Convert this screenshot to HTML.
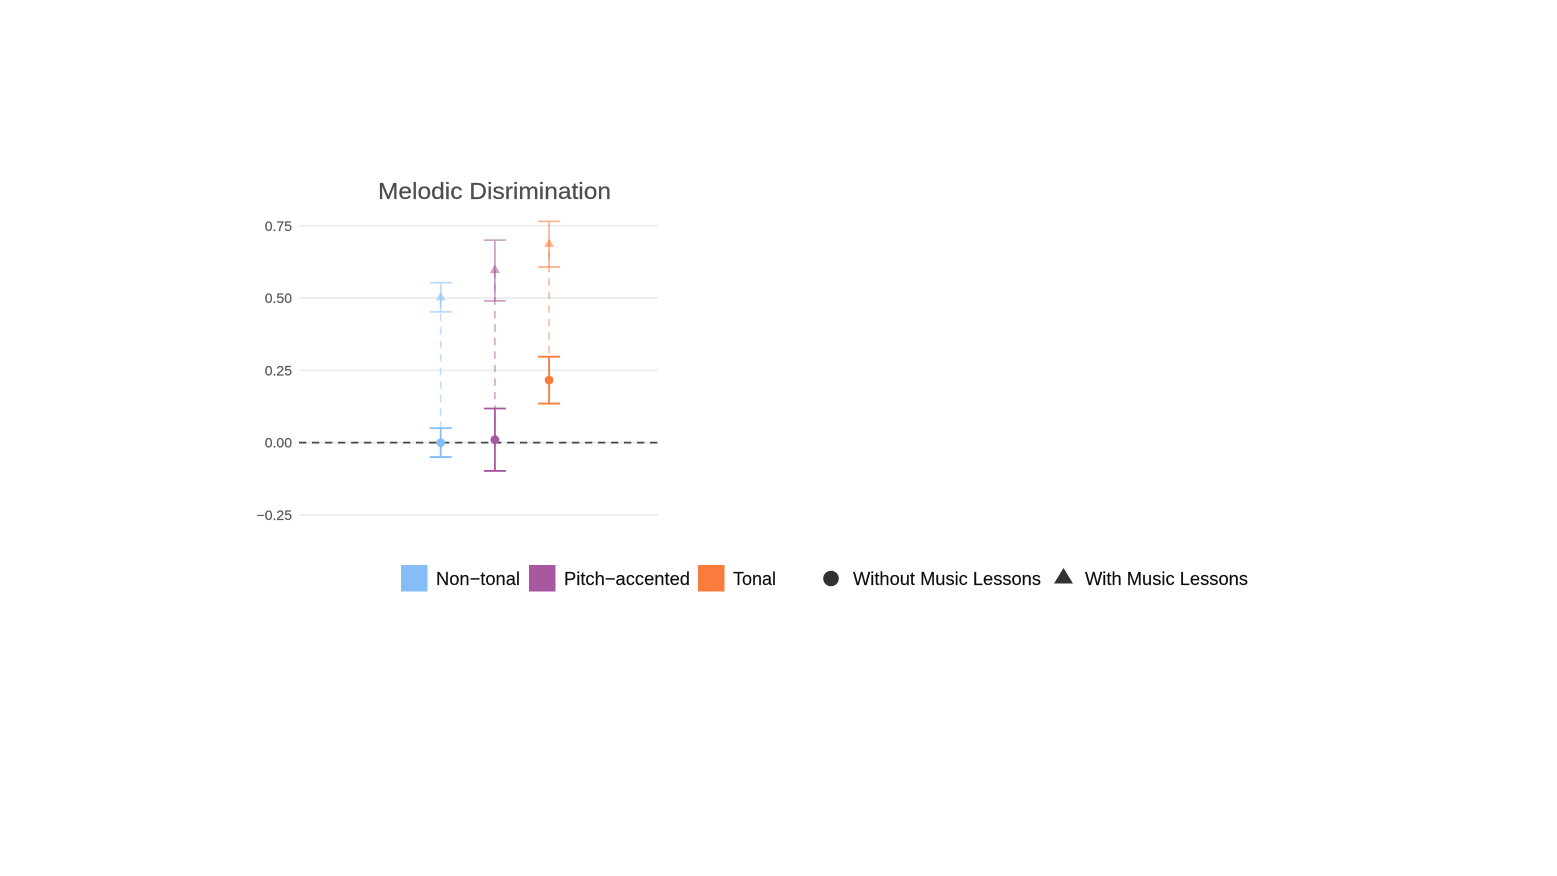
<!DOCTYPE html>
<html>
<head>
<meta charset="utf-8">
<style>
html,body{margin:0;padding:0;background:#fff;width:1557px;height:876px;overflow:hidden}
svg{display:block;font-family:"Liberation Sans",Arial,sans-serif}
</style>
</head>
<body>
<svg id="chart" width="1557" height="876" viewBox="0 0 1557 876" xmlns="http://www.w3.org/2000/svg">
<rect width="1557" height="876" fill="#fff"/>
<g id="plot" filter="url(#soft)"></g>
<defs><filter id="soft" x="-5%" y="-5%" width="110%" height="110%"><feGaussianBlur stdDeviation="0.35"/></filter></defs>
<text x="494.5" y="199" text-anchor="middle" font-size="23.5" fill="#4d4d4d" stroke="#4d4d4d" stroke-width="0.2" textLength="233" lengthAdjust="spacingAndGlyphs">Melodic Disrimination</text>
<g id="legend" filter="url(#soft)"></g>
</svg>
<script>
var groups = ['Non-tonal', 'Pitch-accented', 'Tonal'];
var colors = ['#85bdf7', '#a8589f', '#f97b3d'];
var withoutMean = [0.0, 0.01, 0.216];
var withoutLow = [-0.05, -0.098, 0.135];
var withoutHigh = [0.05, 0.118, 0.297];
var withMean = [0.505, 0.60, 0.69];
var withLow = [0.452, 0.49, 0.607];
var withHigh = [0.553, 0.70, 0.765];
var yTicks = [0.75, 0.5, 0.25, 0, -0.25];
var yTickLabels = ['0.75', '0.50', '0.25', '0.00', '\u22120.25'];
var legendGroupLabels = ['Non\u2212tonal', 'Pitch\u2212accented', 'Tonal'];
var legendShapeLabels = ['Without Music Lessons', 'With Music Lessons'];

var NS = 'http://www.w3.org/2000/svg';
var plot = document.getElementById('plot');
var legend = document.getElementById('legend');
function yScale(v){ return 442.6 - v * 289.2; }
function xScale(i){ return 440.7 + i * 54.2; }
function mk(tag, attrs, parent){
  var e = document.createElementNS(NS, tag);
  for (var k in attrs) e.setAttribute(k, attrs[k]);
  parent.appendChild(e);
  return e;
}
yTicks.forEach(function(t, i){
  var grid = mk('line', {x1:299, x2:658, y1:yScale(t), y2:yScale(t), stroke:'#ebebeb', 'stroke-width':1.7}, plot);
  
  
  var lab = mk('text', {x:292, y:yScale(t) + 5.1, 'text-anchor':'end', 'font-size':14, fill:'#5a5a5a', stroke:'#5a5a5a', 'stroke-width':0.2}, plot);
  lab.textContent = yTickLabels[i];
  
  
});
var zero = mk('line', {x1:299, x2:658, y1:yScale(0), y2:yScale(0), stroke:'#444', 'stroke-width':1.7, 'stroke-dasharray':'7.3 5.7'}, plot);



function errorBar(i, lo, hi, opacity, name){
  var x = xScale(i), g = mk('g', {stroke:colors[i], 'stroke-width':1.8, opacity:opacity, fill:'none'}, plot);
  
  
  mk('line', {x1:x, x2:x, y1:yScale(lo), y2:yScale(hi)}, g);
  mk('line', {x1:x-11, x2:x+11, y1:yScale(lo), y2:yScale(lo)}, g);
  mk('line', {x1:x-11, x2:x+11, y1:yScale(hi), y2:yScale(hi)}, g);
}
groups.forEach(function(g, i){
  var x = xScale(i);
  var slug = g.toLowerCase();
  var dash = mk('line', {x1:x, x2:x, y1:yScale(withoutMean[i]), y2:yScale(withMean[i]), stroke:colors[i], 'stroke-width':1.7, opacity:0.5, 'stroke-dasharray':'7.3 6.2'}, plot);
  
  
  errorBar(i, withLow[i], withHigh[i], 0.55, 'error-bar-with-lessons-' + slug);
  errorBar(i, withoutLow[i], withoutHigh[i], 1, 'error-bar-without-lessons-' + slug);
  var ym = yScale(withMean[i]);
  var tri = mk('polygon', {points:(x-5)+','+(ym+4)+' '+x+','+(ym-5)+' '+(x+5)+','+(ym+4), fill:colors[i], opacity:0.55}, plot);
  
  
  var dot = mk('circle', {cx:x, cy:yScale(withoutMean[i]), r:4.4, fill:colors[i]}, plot);
  
  
});

var swatchX = [401, 529, 698];
var labelX = [436, 564, 733];
var labelW = [84, 126, 43];
groups.forEach(function(g, i){
  var sw = mk('rect', {x:swatchX[i], y:565, width:26.5, height:26.5, fill:colors[i]}, legend);
  
  
  var t = mk('text', {x:labelX[i], y:585, 'font-size':18.5, fill:'#111', stroke:'#111', 'stroke-width':0.15, textLength:labelW[i], lengthAdjust:'spacingAndGlyphs'}, legend);
  t.textContent = legendGroupLabels[i];
  
  
});
var circleKey = mk('circle', {cx:831, cy:578.5, r:7.8, fill:'#333'}, legend);


var triKey = mk('polygon', {points:'1054,583.5 1063.5,568 1073,583.5', fill:'#333'}, legend);


var shapeX = [853, 1085];
var shapeW = [188, 163];
legendShapeLabels.forEach(function(s, i){
  var t = mk('text', {x:shapeX[i], y:585, 'font-size':18.5, fill:'#111', stroke:'#111', 'stroke-width':0.15, textLength:shapeW[i], lengthAdjust:'spacingAndGlyphs'}, legend);
  t.textContent = s;
  
  
});
</script>
</body>
</html>
